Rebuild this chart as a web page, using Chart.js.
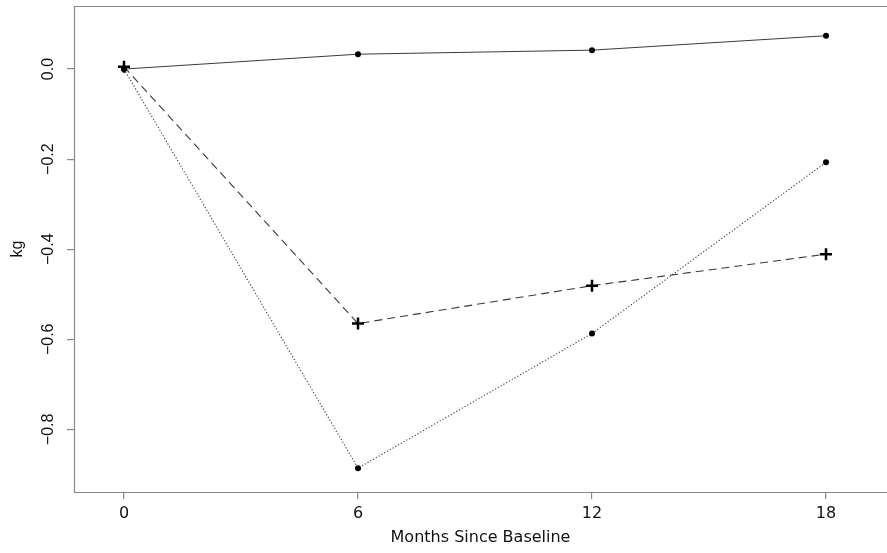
<!DOCTYPE html>
<html>
<head>
<meta charset="utf-8">
<script src="https://cdn.jsdelivr.net/npm/chart.js@4"></script>
<style>
  html, body { margin: 0; padding: 0; background: #fff; }
  canvas { display: block; }
</style>
</head>
<body>
<canvas id="chart" width="887" height="553"></canvas>
<script>
// datos
const months = [0, 6, 12, 18];
const solidSeries = [0, 0.033, 0.042, 0.074];
const dashedSeries = [0.005, -0.565, -0.481, -0.411];
const dottedSeries = [0, -0.886, -0.587, -0.207];
const xTicks = [0, 6, 12, 18];
const yTicks = [0, -0.2, -0.4, -0.6, -0.8];

const FONT_X = "DejaVu Sans";
const FONT_Y = "Liberation Sans";
const AXIS_GRAY = "#8a8a8a";

function toPoints(values) {
  return months.map((m, i) => ({ x: m, y: values[i] }));
}

// marco del gráfico (arriba, izquierda, abajo)
const boxPlugin = {
  id: "box",
  afterDraw(chart) {
    const { ctx, chartArea: a } = chart;
    ctx.save();
    ctx.strokeStyle = AXIS_GRAY;
    ctx.lineWidth = 1.2;
    ctx.beginPath();
    ctx.moveTo(a.right + 2, a.top + 0.5);
    ctx.lineTo(a.left + 0.5, a.top + 0.5);
    ctx.lineTo(a.left + 0.5, a.bottom + 0.5);
    ctx.lineTo(a.right + 2, a.bottom + 0.5);
    ctx.stroke();
    ctx.restore();
  }
};

const ctx = document.getElementById("chart").getContext("2d");
new Chart(ctx, {
  type: "line",
  data: {
    datasets: [
      {
        data: toPoints(solidSeries),
        borderColor: "#3a3a3a",
        borderWidth: 1,
        pointStyle: "circle",
        pointRadius: 3,
        pointBackgroundColor: "#000",
        pointBorderColor: "#000",
        pointBorderWidth: 0
      },
      {
        data: toPoints(dottedSeries),
        borderColor: "#3a3a3a",
        borderWidth: 1.1,
        borderDash: [1.2, 2],
        pointStyle: "circle",
        pointRadius: 3,
        pointBackgroundColor: "#000",
        pointBorderColor: "#000",
        pointBorderWidth: 0
      },
      {
        data: toPoints(dashedSeries),
        borderColor: "#3a3a3a",
        borderWidth: 1.1,
        borderDash: [8, 5],
        pointStyle: "cross",
        pointRadius: 6,
        pointBorderColor: "#000",
        pointBorderWidth: 2.5
      }
    ]
  },
  options: {
    responsive: false,
    animation: false,
    layout: { autoPadding: false, padding: { top: 6, right: 0, bottom: 0, left: 0 } },
    plugins: { legend: { display: false }, tooltip: { enabled: false } },
    elements: { line: { tension: 0, fill: false } },
    scales: {
      x: {
        type: "linear",
        min: -1.282,
        max: 19.564,
        afterBuildTicks: (scale) => { scale.ticks = xTicks.map((v) => ({ value: v })); },
        afterFit: (scale) => {
          scale.height = 61;
          scale.paddingLeft = 0;
          scale.paddingRight = 0;
        },
        grid: { display: true, drawOnChartArea: false, drawTicks: true, tickLength: 7, color: AXIS_GRAY, lineWidth: 1.2 },
        border: { display: false },
        ticks: {
          padding: 5,
          color: "#111",
          font: { family: FONT_X, size: 16 },
          maxRotation: 0,
          callback: (v) => String(v)
        },
        title: {
          display: true,
          text: "Months Since Baseline",
          color: "#111",
          font: { family: FONT_X, size: 16 },
          padding: { top: 0, bottom: 6 }
        }
      },
      y: {
        type: "linear",
        min: -0.939,
        max: 0.14,
        afterBuildTicks: (scale) => { scale.ticks = yTicks.map((v) => ({ value: v })); },
        afterFit: (scale) => {
          scale.width = 74;
          scale.paddingTop = 0;
          scale.paddingBottom = 0;
        },
        grid: { display: true, drawOnChartArea: false, drawTicks: true, tickLength: 7, color: AXIS_GRAY, lineWidth: 1.2 },
        border: { display: false },
        ticks: {
          padding: 3,
          crossAlign: "center",
          minRotation: 90,
          maxRotation: 90,
          color: "#111",
          font: { family: FONT_Y, size: 16 },
          callback: (v) => v.toFixed(1).replace("-", "\u2212")
        },
        title: {
          display: true,
          text: "kg",
          color: "#111",
          font: { family: FONT_Y, size: 16 },
          padding: { top: 8, bottom: 0 }
        }
      }
    }
  },
  plugins: [boxPlugin]
});
</script>
</body>
</html>
